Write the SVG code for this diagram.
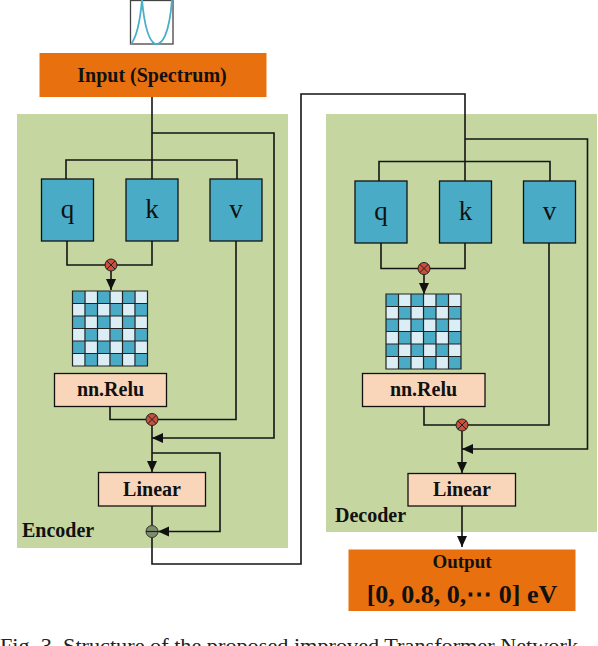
<svg xmlns="http://www.w3.org/2000/svg" width="598" height="646" viewBox="0 0 598 646">
<defs>
<style>
.panel{fill:#C5D6A0}
.qkv{fill:#4AABC6;stroke:#111;stroke-width:1.3}
.peach{fill:#F9D6BA;stroke:#111;stroke-width:1.3}
.orange{fill:#E9700F}
.lbl{font-family:"Liberation Serif","Times New Roman",serif;font-weight:bold;fill:#111}
.big{font-family:"Liberation Serif","Times New Roman",serif;fill:#111;font-size:27px}
.conn{fill:none;stroke:#151515;stroke-width:1.6}
.d{fill:#4AABC6}
.l{fill:#DCEEF5}
.gridline{fill:none;stroke:#222;stroke-width:1.2}
.mul{fill:#C9503D;stroke:#222;stroke-width:1}
.x{stroke:#222;stroke-width:1}
</style>
<marker id="arr" markerUnits="userSpaceOnUse" markerWidth="12" markerHeight="12" viewBox="0 0 12 12" refX="11" refY="6" orient="auto">
<path d="M0,1 L11,6 L0,11 Z" fill="#111"/>
</marker>
<pattern id="chk" x="0" y="0" width="25" height="25" patternUnits="userSpaceOnUse">
<rect width="25" height="25" class="l"/>
<rect width="12.5" height="12.5" class="d"/>
<rect x="12.5" y="12.5" width="12.5" height="12.5" class="d"/>
</pattern>
<g id="grid">
<rect x="0" y="0" width="75" height="75" fill="url(#chk)"/>
<path class="gridline" d="M0,0 H75 V75 H0 Z M12.5,0 V75 M25,0 V75 M37.5,0 V75 M50,0 V75 M62.5,0 V75 M0,12.5 H75 M0,25 H75 M0,37.5 H75 M0,50 H75 M0,62.5 H75"/>
</g>
</defs>

<!-- panels -->
<g id="encoder-panel">
<rect class="panel" x="17" y="114" width="271" height="434"/>
<text class="lbl" x="22" y="537" font-size="20">Encoder</text>
</g>
<g id="decoder-panel">
<rect class="panel" x="326" y="114" width="271" height="418"/>
<text class="lbl" x="335" y="522" font-size="20">Decoder</text>
</g>

<!-- spectrum icon -->
<g id="spectrum">
<rect x="130.5" y="0.5" width="42.5" height="43.5" fill="#fff" stroke="#444" stroke-width="1.3"/>
<path d="M131,44 C136,38 140,22 142,0 M142,0 C144,22 148,40 155,44 C162,45 169,36 172,0" fill="none" stroke="#4AAFC8" stroke-width="1.8"/>
</g>

<!-- input -->
<g id="input">
<rect class="orange" x="39.5" y="53" width="227" height="44"/>
<text class="lbl" x="152" y="82" font-size="20" text-anchor="middle">Input (Spectrum)</text>
</g>

<!-- connectors -->
<g id="connectors">
<!-- encoder -->
<path class="conn" d="M152,97 V179"/>
<path class="conn" d="M66,179 V160 H237 V179"/>
<path class="conn" d="M152,133 H274 V438 H152" marker-end="url(#arr)"/>
<path class="conn" d="M67,241 V265 H152 V241"/>
<path class="conn" d="M111,271 V290" marker-end="url(#arr)"/>
<path class="conn" d="M110,407 V419.5 H146"/>
<path class="conn" d="M158,419.5 H236 V241"/>
<path class="conn" d="M152,425.5 V472" marker-end="url(#arr)"/>
<path class="conn" d="M152,453 H220 V531.5 H158" marker-end="url(#arr)"/>
<path class="conn" d="M152,506 V525.5"/>
<path class="conn" d="M152,537.5 V564 H301 V94 H465 V181"/>
<!-- decoder -->
<path class="conn" d="M379,181 V161.5 H550 V181"/>
<path class="conn" d="M465,139 H587.5 V449 H462" marker-end="url(#arr)"/>
<path class="conn" d="M381,243 V268.5 H465 V243"/>
<path class="conn" d="M424,274.5 V294" marker-end="url(#arr)"/>
<path class="conn" d="M424,407 V425 H456"/>
<path class="conn" d="M468,425 H549 V243"/>
<path class="conn" d="M462,431 V473" marker-end="url(#arr)"/>
<path class="conn" d="M462,506 V547" marker-end="url(#arr)"/>
</g>

<!-- encoder nodes -->
<g id="enc-q"><rect class="qkv" x="41.5" y="179" width="52" height="62"/><text class="big" x="67.5" y="218" text-anchor="middle">q</text></g>
<g id="enc-k"><rect class="qkv" x="126" y="179" width="52" height="62"/><text class="big" x="152" y="218" text-anchor="middle">k</text></g>
<g id="enc-v"><rect class="qkv" x="210" y="179" width="52" height="62"/><text class="big" x="236" y="218" text-anchor="middle">v</text></g>
<g id="enc-mul1"><circle class="mul" cx="111" cy="265" r="6"/><path class="x" d="M106.8,260.8 L115.2,269.2 M115.2,260.8 L106.8,269.2"/></g>
<g id="enc-attn"><use href="#grid" transform="translate(72.5,291)"/></g>
<g id="enc-relu"><rect class="peach" x="54.5" y="373.5" width="112" height="33"/><text class="lbl" x="110.5" y="396" font-size="20" text-anchor="middle">nn.Relu</text></g>
<g id="enc-mul2"><circle class="mul" cx="152" cy="419.5" r="6"/><path class="x" d="M147.8,415.3 L156.2,423.7 M156.2,415.3 L147.8,423.7"/></g>
<g id="enc-linear"><rect class="peach" x="98.5" y="472.5" width="107" height="33.5"/><text class="lbl" x="152" y="496" font-size="20" text-anchor="middle">Linear</text></g>
<g id="enc-add"><circle cx="152" cy="531.5" r="6" fill="#7D8C6C" stroke="#333" stroke-width="1"/><path d="M146,531.5 H158" stroke="#222" stroke-width="1.2"/></g>

<!-- decoder nodes -->
<g id="dec-q"><rect class="qkv" x="355" y="181" width="52" height="62"/><text class="big" x="381" y="220" text-anchor="middle">q</text></g>
<g id="dec-k"><rect class="qkv" x="439.5" y="181" width="52" height="62"/><text class="big" x="465.5" y="220" text-anchor="middle">k</text></g>
<g id="dec-v"><rect class="qkv" x="523.5" y="181" width="52" height="62"/><text class="big" x="549.5" y="220" text-anchor="middle">v</text></g>
<g id="dec-mul1"><circle class="mul" cx="424" cy="268.5" r="6"/><path class="x" d="M419.8,264.3 L428.2,272.7 M428.2,264.3 L419.8,272.7"/></g>
<g id="dec-attn"><use href="#grid" transform="translate(386,294)"/></g>
<g id="dec-relu"><rect class="peach" x="362.5" y="373.5" width="122.5" height="33"/><text class="lbl" x="423.5" y="396" font-size="20" text-anchor="middle">nn.Relu</text></g>
<g id="dec-mul2"><circle class="mul" cx="462" cy="425" r="6"/><path class="x" d="M457.8,420.8 L466.2,429.2 M466.2,420.8 L457.8,429.2"/></g>
<g id="dec-linear"><rect class="peach" x="408" y="473.5" width="107.5" height="32.5"/><text class="lbl" x="462" y="496" font-size="20" text-anchor="middle">Linear</text></g>

<!-- output -->
<g id="output">
<rect class="orange" x="348.5" y="549.5" width="227" height="61.5"/>
<text class="lbl" x="462" y="568" font-size="19" text-anchor="middle">Output</text>
<text class="lbl" x="462" y="603" font-size="26" text-anchor="middle">[0, 0.8, 0,⋯ 0] eV</text>
</g>

<!-- caption (cut off at bottom edge) -->
<text x="0" y="653" font-family="'Liberation Serif','Times New Roman',serif" font-size="22" fill="#222" textLength="578" lengthAdjust="spacingAndGlyphs">Fig. 3. Structure of the proposed improved Transformer Network</text>
</svg>
